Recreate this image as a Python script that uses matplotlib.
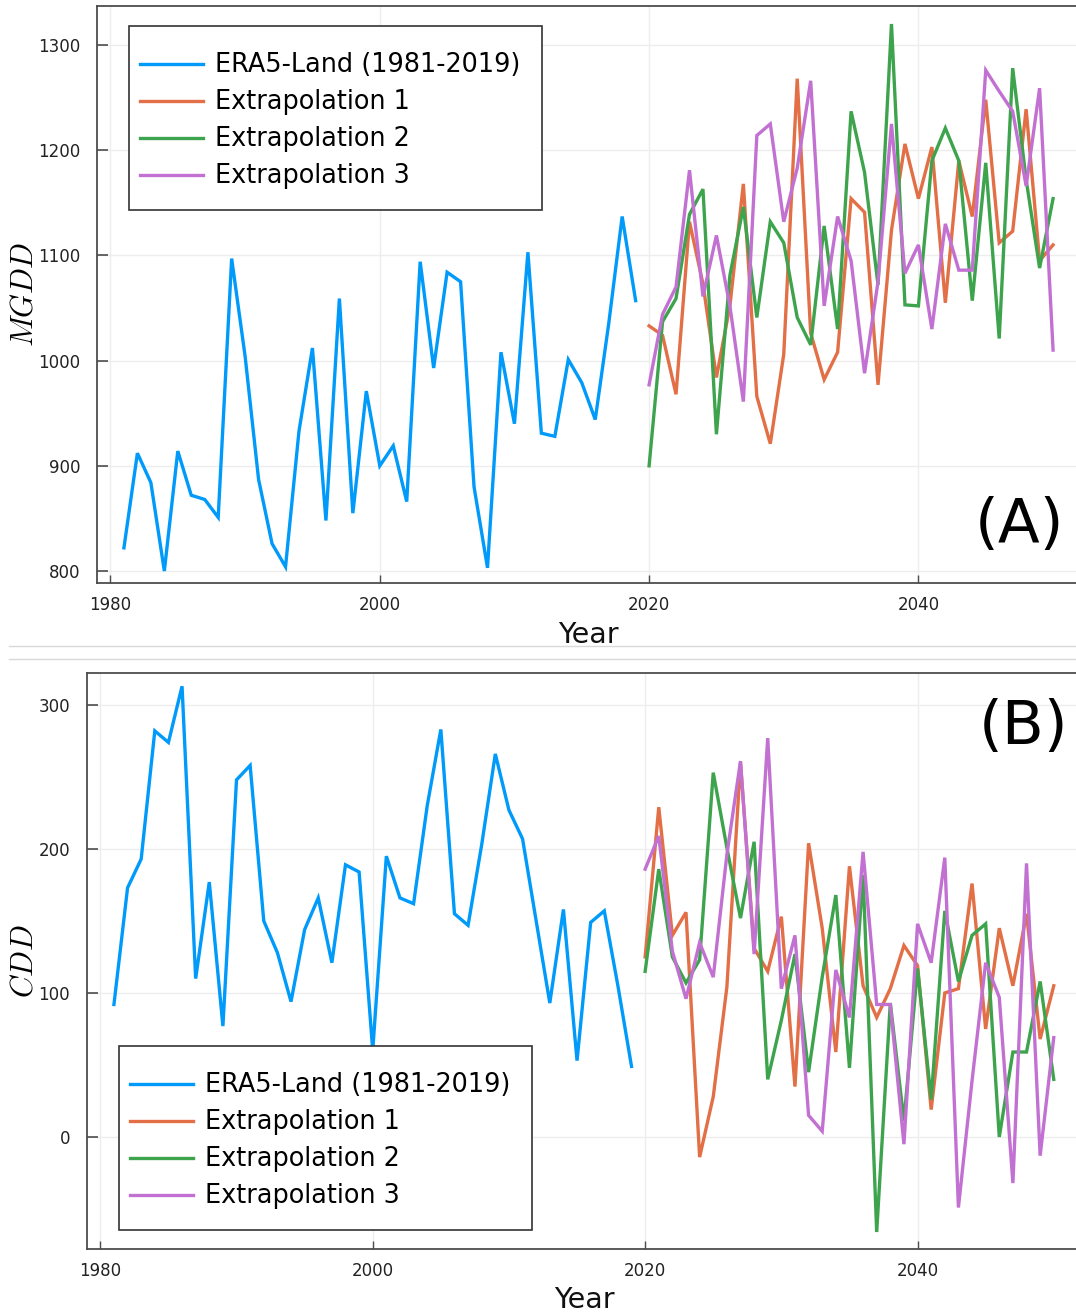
import matplotlib
matplotlib.use('Agg')
import matplotlib.pyplot as plt
from matplotlib.lines import Line2D
from matplotlib.patches import Rectangle

plt.rcParams['font.family'] = ['DejaVu Sans']
plt.rcParams['mathtext.fontset'] = 'cm'

# ---------------- data ----------------
years_obs = list(range(1981, 2020))
years_ext = list(range(2020, 2051))

mgdd_era5 = [822, 912, 884, 800, 914, 872, 868, 851, 1097, 1004,
             887, 826, 804, 933, 1012, 848, 1059, 855, 971, 900,
             919, 866, 1094, 993, 1084, 1075, 880, 803, 1008, 940,
             1103, 931, 928, 1001, 979, 944, 1035, 1137, 1057]
mgdd_ext1 = [1033, 1024, 968, 1132, 1073, 984, 1052, 1168, 966, 921,
             1006, 1268, 1026, 982, 1008, 1154, 1141, 977, 1124, 1206,
             1154, 1203, 1055, 1190, 1137, 1248, 1112, 1123, 1239, 1095, 1110]
mgdd_ext2 = [900, 1037, 1059, 1139, 1163, 930, 1081, 1146, 1041, 1132,
             1112, 1041, 1015, 1128, 1030, 1237, 1179, 1072, 1320, 1053,
             1052, 1190, 1221, 1190, 1057, 1188, 1021, 1278, 1172, 1088, 1154]
mgdd_ext3 = [977, 1044, 1070, 1181, 1061, 1119, 1052, 961, 1214, 1225,
             1132, 1183, 1266, 1052, 1137, 1095, 988, 1075, 1225, 1083,
             1110, 1030, 1130, 1086, 1086, 1276, 1256, 1237, 1166, 1259, 1010]

cdd_era5 = [92, 173, 193, 282, 274, 313, 110, 177, 77, 248,
            258, 150, 128, 94, 144, 166, 121, 189, 184, 60,
            195, 166, 162, 230, 283, 155, 147, 203, 266, 227,
            207, 150, 93, 158, 53, 149, 157, 105, 49]
cdd_ext1 = [125, 229, 140, 156, -14, 28, 104, 260, 131, 115,
            153, 35, 204, 145, 59, 188, 105, 83, 103, 133,
            119, 19, 100, 103, 176, 75, 145, 105, 155, 68, 105]
cdd_ext2 = [115, 186, 125, 107, 123, 253, 201, 152, 205, 40,
            81, 127, 45, 111, 168, 48, 182, -66, 93, 11,
            117, 26, 157, 108, 140, 148, 0, 59, 59, 108, 40]
cdd_ext3 = [186, 209, 129, 96, 135, 111, 196, 261, 127, 277,
            103, 140, 15, 4, 116, 83, 198, 92, 92, -5,
            148, 121, 194, -49, 39, 121, 97, -32, 190, -13, 69]

labels = ["ERA5-Land (1981-2019)", "Extrapolation 1", "Extrapolation 2", "Extrapolation 3"]
colors = ["#009AFA", "#E26F46", "#3DA44D", "#C271D2"]
xticks = [1980, 2000, 2020, 2040]
mgdd_yticks = [800, 900, 1000, 1100, 1200, 1300]
cdd_yticks = [0, 100, 200, 300]

# ---------------- layout ----------------
W, H = 1076, 1316
fig = plt.figure(figsize=(W / 100, H / 100), dpi=100)


def fx(px):
    return px / W


def fy(py):
    return 1 - py / H


ax1 = fig.add_axes([fx(97), fy(583), fx(1080) - fx(97), fy(6) - fy(583)])
ax2 = fig.add_axes([fx(86.7), fy(1249), fx(1081) - fx(86.7), fy(673) - fy(1249)])

LW = 2.4
spine_col = "#4d4d4d"


def draw(ax, era5, e1, e2, e3, ylim, yticks):
    series = [(years_obs, era5), (years_ext, e1), (years_ext, e2), (years_ext, e3)]
    for (xs, ys), lab, c in zip(series, labels, colors):
        ax.plot(xs, ys, color=c, lw=LW, label=lab, solid_joinstyle='miter')
    ax.set_xlim(1979, 2052)
    ax.set_ylim(*ylim)
    ax.set_xticks(xticks)
    ax.set_yticks(yticks)
    ax.grid(True, color="#ededed", lw=1.0)
    ax.set_axisbelow(True)
    for s in ax.spines.values():
        s.set_color(spine_col)
        s.set_linewidth(1.3)
    ax.tick_params(axis='y', direction='in', length=8, width=1.2, color=spine_col,
                   labelsize=12, labelcolor="#222222", pad=12)
    ax.tick_params(axis='x', direction='in', length=6, width=1.0, color=spine_col,
                   labelsize=12, labelcolor="#222222", pad=9)


draw(ax1, mgdd_era5, mgdd_ext1, mgdd_ext2, mgdd_ext3, (788.6, 1337.1), mgdd_yticks)
draw(ax2, cdd_era5, cdd_ext1, cdd_ext2, cdd_ext3, (-77.8, 322.2), cdd_yticks)


def legend_box(ax, box, first_row_y):
    # box = (left, top, right, bottom) in figure pixels
    l, t, r, b = box
    rect = Rectangle((fx(l), fy(b)), fx(r) - fx(l), fy(t) - fy(b),
                     transform=fig.transFigure, facecolor='white',
                     edgecolor="#333333", lw=1.2, zorder=4)
    ax.add_patch(rect)
    rect.set_clip_on(False)
    lg = ax.legend(loc='upper left',
                   bbox_to_anchor=(fx(l + 11), fy(first_row_y - 10.5)),
                   bbox_transform=fig.transFigure,
                   fontsize=18.4, frameon=False, handlelength=2.45,
                   handletextpad=0.48, labelspacing=0.43, borderpad=0.0,
                   borderaxespad=0.0)
    lg.set_zorder(5)
    return lg


legend_box(ax1, (129, 26, 542, 210), 63)
legend_box(ax2, (119, 1046, 532, 1230), 1083)

# y labels
fig.text(fx(24), fy(294), r"$MGDD$", rotation=90, ha='center', va='center', fontsize=22)
fig.text(fx(24), fy(961), r"$CDD$", rotation=90, ha='center', va='center', fontsize=22)

# x labels
fig.text(fx(588), fy(643), "Year", ha='center', va='baseline', fontsize=20.5, color="#111111")
fig.text(fx(584), fy(1308), "Year", ha='center', va='baseline', fontsize=20.5, color="#111111")

# panel letters
fig.text(fx(1019), fy(525), "(A)", ha='center', va='center', fontsize=44)
fig.text(fx(1024), fy(727), "(B)", ha='center', va='center', fontsize=44)

# separator lines between panels
for yy in (645.7, 659):
    fig.add_artist(Line2D([fx(9), 1.0], [fy(yy), fy(yy)], color="#d9d9d9", lw=1.0))

fig.savefig("out.png", dpi=100)
